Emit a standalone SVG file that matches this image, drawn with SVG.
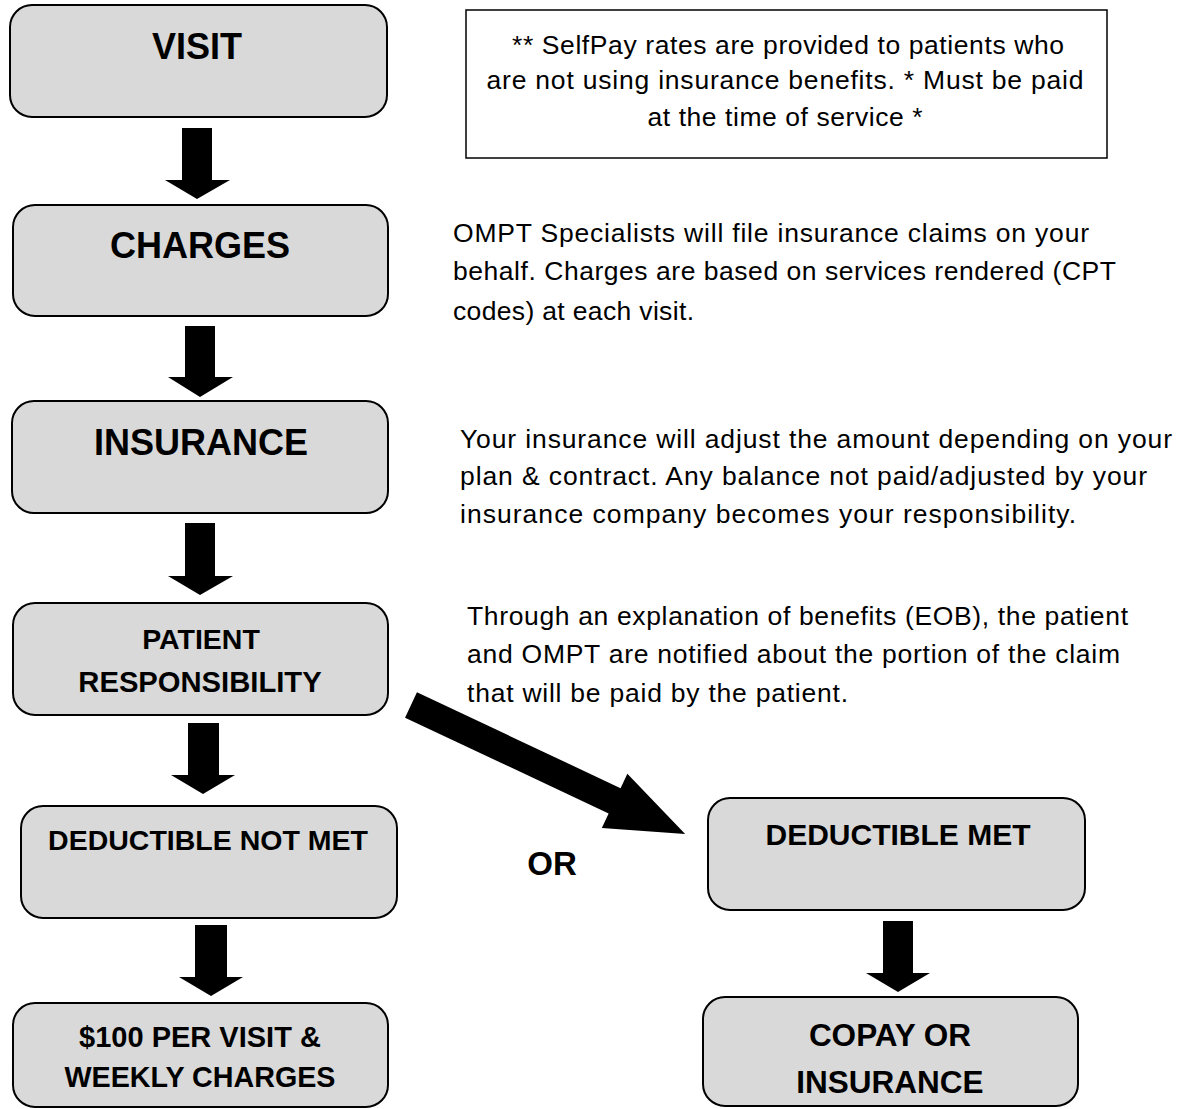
<svg xmlns="http://www.w3.org/2000/svg" width="1178" height="1109" viewBox="0 0 1178 1109">
<style>
.box{fill:#d9d9d9;stroke:#000;stroke-width:2}
.t{font-family:"Liberation Sans",Arial,sans-serif;font-weight:bold;fill:#000;text-anchor:middle}
.p{font-family:"Liberation Sans",Arial,sans-serif;font-size:26.5px;fill:#000}
.arr{fill:#000}
</style>
<rect width="1178" height="1109" fill="#fff"/>
<g id="note">
<rect x="466" y="10" width="641" height="148" fill="#fff" stroke="#000" stroke-width="1.5"/>
<text class="p" x="788" y="54" text-anchor="middle" textLength="552">** SelfPay rates are provided to patients who</text>
<text class="p" x="785" y="89" text-anchor="middle" textLength="597">are not using insurance benefits. * Must be paid</text>
<text class="p" x="785" y="126" text-anchor="middle" textLength="275">at the time of service *</text>
</g>
<g id="visit">
<rect class="box" x="10" y="5" width="377" height="112" rx="22"/>
<text class="t" x="197" y="59" font-size="36">VISIT</text>
</g>
<g id="charges">
<rect class="box" x="13" y="205" width="375" height="111" rx="22"/>
<text class="t" x="200" y="258" font-size="36">CHARGES</text>
</g>
<g id="charges-note">
<text class="p" x="453" y="242" textLength="636">OMPT Specialists will file insurance claims on your</text>
<text class="p" x="453" y="280" textLength="663">behalf. Charges are based on services rendered (CPT</text>
<text class="p" x="453" y="320" textLength="241">codes) at each visit.</text>
</g>
<g id="insurance">
<rect class="box" x="12" y="401" width="376" height="112" rx="22"/>
<text class="t" x="201" y="455" font-size="36">INSURANCE</text>
</g>
<g id="insurance-note">
<text class="p" x="460" y="448" textLength="712">Your insurance will adjust the amount depending on your</text>
<text class="p" x="460" y="485" textLength="687">plan &amp; contract. Any balance not paid/adjusted by your</text>
<text class="p" x="460" y="523" textLength="616">insurance company becomes your responsibility.</text>
</g>
<g id="patient">
<rect class="box" x="13" y="603" width="375" height="112" rx="22"/>
<text class="t" x="201" y="649" font-size="28.5">PATIENT</text>
<text class="t" x="200" y="692" font-size="29.2">RESPONSIBILITY</text>
</g>
<g id="patient-note">
<text class="p" x="467" y="625" textLength="661">Through an explanation of benefits (EOB), the patient</text>
<text class="p" x="467" y="663" textLength="653">and OMPT are notified about the portion of the claim</text>
<text class="p" x="467" y="702" textLength="381">that will be paid by the patient.</text>
</g>
<g id="ded-not-met">
<rect class="box" x="21" y="806" width="376" height="112" rx="22"/>
<text class="t" x="208" y="850" font-size="28.5">DEDUCTIBLE NOT MET</text>
</g>
<g id="or">
<text class="t" x="552" y="875" font-size="33">OR</text>
</g>
<g id="ded-met">
<rect class="box" x="708" y="798" width="377" height="112" rx="22"/>
<text class="t" x="898" y="845" font-size="30">DEDUCTIBLE MET</text>
</g>
<g id="weekly">
<rect class="box" x="13" y="1003" width="375" height="104" rx="22"/>
<text class="t" x="200" y="1047" font-size="29">$100 PER VISIT &amp;</text>
<text class="t" x="200" y="1087" font-size="28.7">WEEKLY CHARGES</text>
</g>
<g id="copay">
<rect class="box" x="703" y="997" width="375" height="109" rx="22"/>
<text class="t" x="890" y="1046" font-size="31.5">COPAY OR</text>
<text class="t" x="890" y="1093" font-size="31.5">INSURANCE</text>
</g>
<g id="connectors">
<polygon class="arr" points="182,128 212,128 212,180 230,180 197,199 165,180 182,180"/>
<polygon class="arr" points="185,326 215,326 215,377 233,377 200,397 168,377 185,377"/>
<polygon class="arr" points="185,523 215,523 215,576 233,576 200,595 168,576 185,576"/>
<polygon class="arr" points="188,723 219,723 219,775 235,775 203,794 171,775 188,775"/>
<polygon class="arr" points="195,925 227,925 227,977 243,977 211,996 179,977 195,977"/>
<polygon class="arr" points="883,921 913,921 913,973 930,973 898,992 866,973 883,973"/>
<polygon class="arr" transform="translate(411,705) rotate(25.2)" points="0,-14 225,-14 225,-30 303,0 225,30 225,14 0,14"/>
</g>
</svg>
